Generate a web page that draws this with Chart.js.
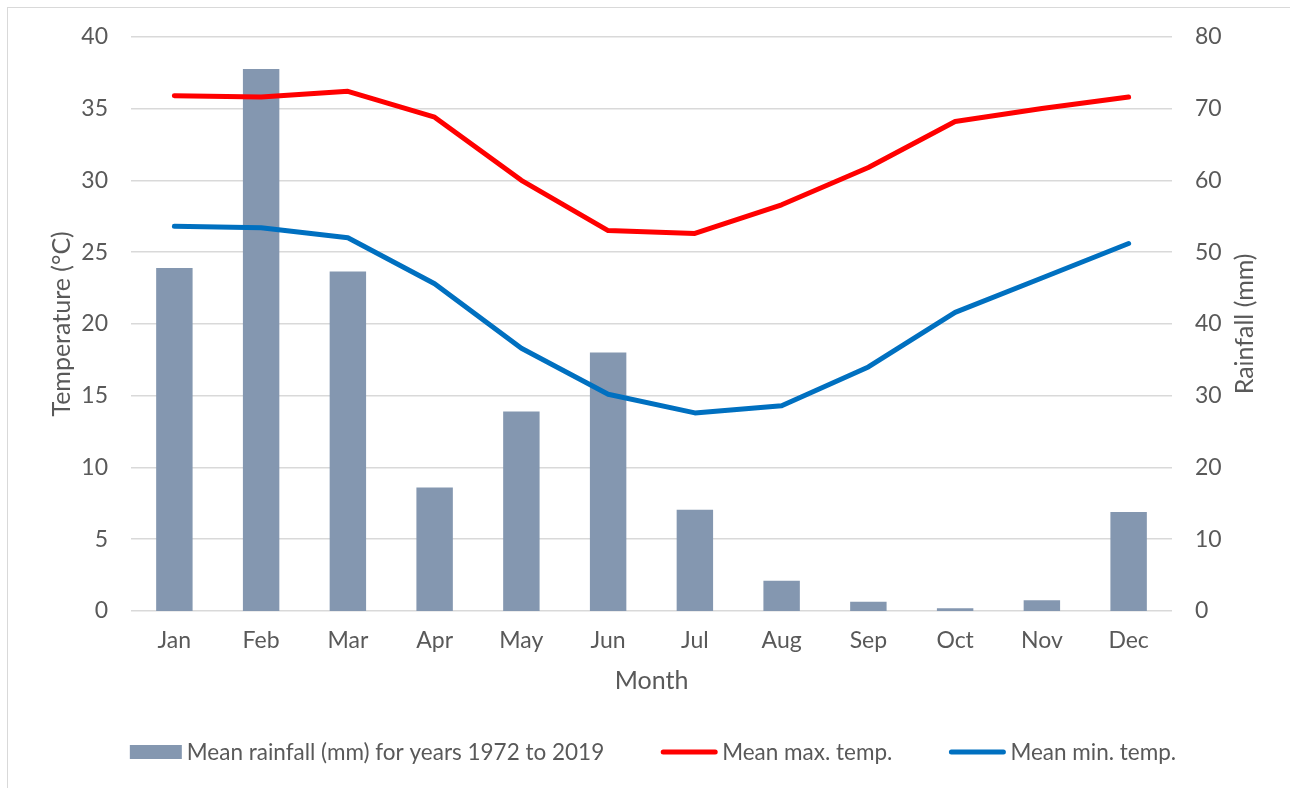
<!DOCTYPE html>
<html>
<head>
<meta charset="utf-8">
<script src="https://cdn.jsdelivr.net/npm/chart.js@4.4.1/dist/chart.umd.min.js"></script>
<style>
  html, body { margin: 0; padding: 0; background: #fff; overflow: hidden; }
  #frame { position: absolute; left: 7px; top: 7px; width: 1400px; height: 900px; border: 1px solid #d9d9d9; }
  #c { position: absolute; left: 0; top: 0; }
</style>
</head>
<body>
<div id="frame"></div>
<canvas id="c" width="1290" height="788"></canvas>
<script>
// Monthly climate data
const months = ['Jan', 'Feb', 'Mar', 'Apr', 'May', 'Jun', 'Jul', 'Aug', 'Sep', 'Oct', 'Nov', 'Dec'];
const rainfall = [47.8, 75.5, 47.3, 17.2, 27.8, 36.0, 14.1, 4.2, 1.3, 0.4, 1.5, 13.8];
const maxTemp = [35.9, 35.8, 36.2, 34.4, 30.0, 26.5, 26.3, 28.3, 30.9, 34.1, 35.0, 35.8];
const minTemp = [26.8, 26.7, 26.0, 22.8, 18.3, 15.1, 13.8, 14.3, 17.0, 20.8, 23.2, 25.6];
const tempTicks = [0, 5, 10, 15, 20, 25, 30, 35, 40];
const rainTicks = [0, 10, 20, 30, 40, 50, 60, 70, 80];

const TEXT = '#595959';
const FAMILY = 'Lato, "Noto Sans", sans-serif';
const tickFont = { family: FAMILY, size: 23, lineHeight: 1.2 };
const titleFont = { family: FAMILY, size: 25, lineHeight: 1.2 };
const legendFontSize = 22.5;

// Legend drawn along the bottom with wide swatches
const bottomLegend = {
  id: 'bottomLegend',
  afterDraw(chart) {
    const ctx = chart.ctx;
    const y = 752;
    ctx.save();
    ctx.font = legendFontSize + 'px ' + FAMILY;
    ctx.textBaseline = 'middle';
    ctx.textAlign = 'left';
    const items = chart.data.datasets.map(ds => ({
      label: ds.label,
      bar: ds.type === 'bar',
      color: ds.type === 'bar' ? ds.backgroundColor : ds.borderColor,
      sw: ds.type === 'bar' ? 52 : 56
    }));
    const gap = 5, between = 57;
    let total = 0;
    items.forEach(it => { it.tw = ctx.measureText(it.label).width; total += it.sw + gap + it.tw; });
    total += between * (items.length - 1);
    let x = 653 - total / 2;
    items.forEach(it => {
      if (it.bar) {
        ctx.fillStyle = it.color;
        ctx.fillRect(x, y - 7, it.sw, 14);
      } else {
        ctx.strokeStyle = it.color;
        ctx.lineWidth = 5;
        ctx.lineCap = 'round';
        ctx.beginPath();
        ctx.moveTo(x + 2, y);
        ctx.lineTo(x + it.sw - 2, y);
        ctx.stroke();
      }
      x += it.sw + gap;
      ctx.fillStyle = TEXT;
      ctx.fillText(it.label, x, y + 1);
      x += it.tw + between;
    });
    ctx.restore();
  }
};

// Right-hand axis title, reading bottom to top
const rightTitle = {
  id: 'rightTitle',
  afterDraw(chart) {
    const s = chart.scales.yRain;
    const ctx = chart.ctx;
    ctx.save();
    ctx.font = titleFont.size + 'px ' + FAMILY;
    ctx.fillStyle = TEXT;
    ctx.textAlign = 'center';
    ctx.textBaseline = 'middle';
    ctx.translate(1245, (chart.chartArea.top + chart.chartArea.bottom) / 2);
    ctx.rotate(-Math.PI / 2);
    ctx.fillText(s.options.title.text, 0, 0);
    ctx.restore();
  }
};

new Chart(document.getElementById('c'), {
  data: {
    labels: months,
    datasets: [
      {
        type: 'bar',
        label: 'Mean rainfall (mm) for years 1972 to 2019',
        data: rainfall,
        yAxisID: 'yRain',
        backgroundColor: '#8497b0',
        categoryPercentage: 1,
        barPercentage: 0.42,
        order: 3
      },
      {
        type: 'line',
        label: 'Mean max. temp.',
        data: maxTemp,
        yAxisID: 'yTemp',
        borderColor: '#ff0000',
        borderWidth: 5,
        borderCapStyle: 'round',
        borderJoinStyle: 'round',
        pointRadius: 0,
        tension: 0,
        order: 1
      },
      {
        type: 'line',
        label: 'Mean min. temp.',
        data: minTemp,
        yAxisID: 'yTemp',
        borderColor: '#0070c0',
        borderWidth: 5,
        borderCapStyle: 'round',
        borderJoinStyle: 'round',
        pointRadius: 0,
        tension: 0,
        order: 2
      }
    ]
  },
  options: {
    responsive: false,
    animation: false,
    devicePixelRatio: 1,
    layout: { padding: { left: 47, right: 33, top: 36, bottom: 92 } },
    plugins: {
      legend: { display: false },
      tooltip: { enabled: false }
    },
    scales: {
      x: {
        grid: { display: false, drawTicks: false },
        border: { display: false },
        ticks: { color: TEXT, font: tickFont, padding: 16, maxRotation: 0 },
        title: { display: true, text: 'Month', color: TEXT, font: titleFont, padding: 0 },
        afterFit(s) { s.height = 85; }
      },
      yTemp: {
        position: 'left',
        min: 0, max: 40,
        afterBuildTicks(s) { s.ticks = tempTicks.map(v => ({ value: v })); },
        grid: { color: '#d9d9d9', lineWidth: 1.5, drawTicks: false },
        border: { display: false },
        ticks: { color: TEXT, font: tickFont, padding: 23 },
        title: { display: true, text: 'Temperature (°C)', color: TEXT, font: titleFont, padding: 0 },
        afterFit(s) { s.width = 84; }
      },
      yRain: {
        position: 'right',
        min: 0, max: 80,
        afterBuildTicks(s) { s.ticks = rainTicks.map(v => ({ value: v })); },
        grid: { display: false, drawTicks: false },
        border: { display: false },
        ticks: { color: TEXT, font: tickFont, padding: 23 },
        title: { display: false, text: 'Rainfall (mm)' },
        afterFit(s) { s.width = 85; }
      }
    }
  },
  plugins: [bottomLegend, rightTitle]
});
</script>
</body>
</html>
